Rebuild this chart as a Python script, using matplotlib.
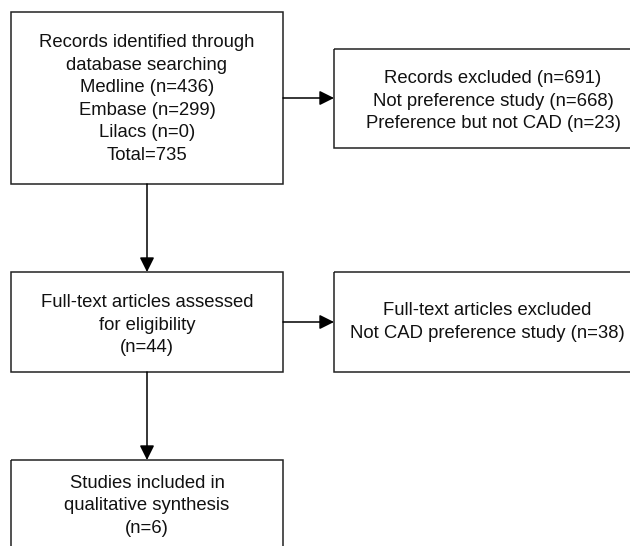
import matplotlib.pyplot as plt
from matplotlib.patches import Rectangle

# Box texts of the flow diagram
labels = [
    "Records identified through\ndatabase searching\nMedline (n=436)\nEmbase (n=299)\nLilacs (n=0)\nTotal=735",
    "Records excluded (n=691)\nNot preference study (n=668)\nPreference but not CAD (n=23)",
    "Full-text articles assessed\nfor eligibility\n(n=44)",
    "Full-text articles excluded\nNot CAD preference study (n=38)",
    "Studies included in\nqualitative synthesis\n(n=6)",
]

# layout in pixels: left, top, right, bottom, text x, text y
boxes = [
    (11, 12, 283, 184, 147, 99),
    (334, 49, 660, 148, 493, 101),
    (11, 272, 283, 372, 147, 325),
    (334, 272, 646, 372, 487, 322),
    (11, 460, 283, 600, 147, 506),
]

# arrows: (x0, y0, x1, y1)
arrows = [
    (147, 184, 147, 272),
    (283, 98, 334, 98),
    (147, 372, 147, 460),
    (283, 322, 334, 322),
]

fig = plt.figure(figsize=(6.3, 5.46), dpi=100)
ax = fig.add_axes([0, 0, 1, 1])
ax.set_xlim(0, 630)
ax.set_ylim(546, 0)
ax.axis("off")

for (l, t, r, b, tx, ty), txt in zip(boxes, labels):
    ax.add_patch(Rectangle((l, t), r - l, b - t, fill=False, edgecolor="#222222", linewidth=1.1))
    ax.text(tx, ty, txt, ha="center", va="center", fontsize=13.3,
            family="Liberation Sans", linespacing=1.42, color="#111111")

for x0, y0, x1, y1 in arrows:
    ax.annotate("", xy=(x1, y1), xytext=(x0, y0),
                arrowprops=dict(arrowstyle="-|>", color="black", lw=1.1,
                                mutation_scale=22, shrinkA=0, shrinkB=0))

fig.savefig("out.png", dpi=100)
